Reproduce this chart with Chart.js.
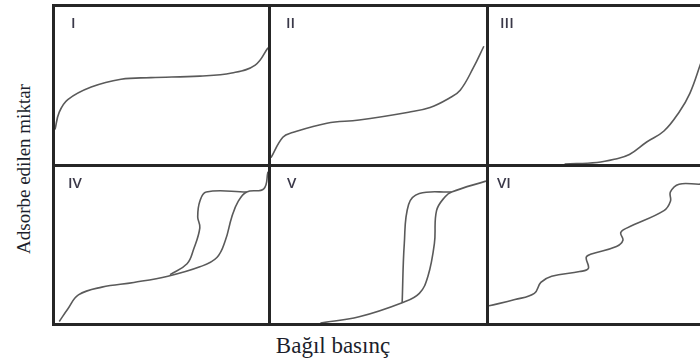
<!DOCTYPE html>
<html>
<head>
<meta charset="utf-8">
<script src="https://cdn.jsdelivr.net/npm/chart.js@4"></script>
<style>
  body { margin: 0; background: #fff; }
  #page { position: relative; width: 700px; height: 360px; overflow: hidden; }
  .panel { position: absolute; box-sizing: border-box; border: 3px solid #262626; }
  .panel canvas { position: absolute; left: 0; top: 0; }
  .roman { position: absolute; font-family: "Open Sans", "Liberation Sans", sans-serif; font-weight: 600; font-size: 15px; line-height: 15px; color: #3a3848; z-index: 2; }
  #ylab { position: absolute; left: 24px; top: 169px; transform: translate(-50%, -50%) rotate(-90deg); font-family: "Liberation Serif", "DejaVu Serif", serif; font-size: 19px; color: #1c1f2c; white-space: nowrap; }
  #xlab { position: absolute; left: 333px; top: 346px; transform: translate(-50%, -50%); font-family: "Liberation Serif", "DejaVu Serif", serif; font-size: 23px; color: #1c1f2c; white-space: nowrap; }
</style>
</head>
<body>
<div id="page">
  <div class="panel" style="left:52px;top:4px;width:219px;height:163px"><div class="roman" style="left:16px;top:8px">I</div><div class="chart-box"><canvas id="c1"></canvas></div></div>
  <div class="panel" style="left:268px;top:4px;width:221px;height:163px"><div class="roman" style="left:15px;top:8px">II</div><div class="chart-box"><canvas id="c2"></canvas></div></div>
  <div class="panel" style="left:486px;top:4px;width:222px;height:163px"><div class="roman" style="left:11px;top:8px">III</div><div class="chart-box"><canvas id="c3"></canvas></div></div>
  <div class="panel" style="left:52px;top:164px;width:219px;height:162px"><div class="roman" style="left:13px;top:8px">IV</div><div class="chart-box"><canvas id="c4"></canvas></div></div>
  <div class="panel" style="left:268px;top:164px;width:221px;height:162px"><div class="roman" style="left:16px;top:8px">V</div><div class="chart-box"><canvas id="c5"></canvas></div></div>
  <div class="panel" style="left:486px;top:164px;width:222px;height:162px"><div class="roman" style="left:8px;top:8px">VI</div><div class="chart-box"><canvas id="c6"></canvas></div></div>
  <div id="ylab">Adsorbe edilen miktar</div>
  <div id="xlab">Bağıl basınç</div>
</div>
<script>
// relative pressure (x) and adsorbed amount (y), both 0..1 inside each panel
const pressureI = [0, 0.02, 0.06, 0.17, 0.31, 0.45, 0.68, 0.83, 0.94, 1.0];
const amountI   = [0.22, 0.33, 0.41, 0.49, 0.54, 0.55, 0.56, 0.58, 0.63, 0.74];

const pressureII = [0, 0.055, 0.10, 0.26, 0.41, 0.64, 0.74, 0.83, 0.88, 0.94, 0.99];
const amountII   = [0.04, 0.17, 0.20, 0.26, 0.28, 0.33, 0.36, 0.42, 0.47, 0.61, 0.75];

const pressureIII = [0.35, 0.50, 0.58, 0.65, 0.73, 0.81, 0.88, 0.93, 0.98, 1.0];
const amountIII   = [0.0, 0.01, 0.03, 0.06, 0.14, 0.21, 0.33, 0.45, 0.64, 0.72];

const pressureIVads = [0.02, 0.06, 0.11, 0.22, 0.37, 0.53, 0.68, 0.76, 0.80, 0.83, 0.86, 0.90, 0.98, 1.0];
const amountIVads   = [0.01, 0.09, 0.18, 0.23, 0.26, 0.30, 0.36, 0.42, 0.53, 0.68, 0.78, 0.84, 0.86, 0.97];
const pressureIVdes = [0.90, 0.71, 0.68, 0.67, 0.68, 0.65, 0.62, 0.54];
const amountIVdes   = [0.84, 0.84, 0.78, 0.68, 0.61, 0.47, 0.38, 0.31];

const pressureVads = [0.23, 0.41, 0.61, 0.69, 0.73, 0.76, 0.77, 0.81, 0.84, 1.0];
const amountVads   = [0.0, 0.04, 0.13, 0.19, 0.30, 0.51, 0.72, 0.81, 0.84, 0.91];
const pressureVdes = [0.84, 0.69, 0.64, 0.62, 0.61];
const amountVdes   = [0.84, 0.83, 0.76, 0.51, 0.13];

const pressureVI = [0, 0.12, 0.21, 0.24, 0.29, 0.42, 0.46, 0.45, 0.47, 0.59, 0.62, 0.61, 0.64, 0.81, 0.84, 0.84, 0.88, 0.98, 1.0];
const amountVI   = [0.11, 0.15, 0.19, 0.26, 0.30, 0.33, 0.35, 0.42, 0.44, 0.49, 0.53, 0.58, 0.61, 0.72, 0.78, 0.84, 0.89, 0.89, 0.90];

function toPoints(xs, ys) {
  return xs.map((x, i) => ({ x: x, y: ys[i] }));
}

function curve(xs, ys) {
  return {
    data: toPoints(xs, ys),
    showLine: true,
    borderColor: "#5a5a5a",
    borderWidth: 1.6,
    pointRadius: 0,
    tension: 0.4,
    clip: false
  };
}

function draw_panel(id, datasets) {
  const canvas = document.getElementById(id);
  const box = canvas.parentElement;
  const panel = box.parentElement;
  box.style.position = "absolute";
  box.style.left = "0";
  box.style.top = "0";
  box.style.width = panel.clientWidth + "px";
  box.style.height = panel.clientHeight + "px";
  new Chart(canvas, {
    type: "scatter",
    data: { datasets: datasets },
    options: {
      responsive: true,
      maintainAspectRatio: false,
      animation: false,
      layout: { padding: 0 },
      plugins: { legend: { display: false }, tooltip: { enabled: false } },
      scales: {
        x: { type: "linear", min: 0, max: 1, display: false },
        y: { type: "linear", min: 0, max: 1, display: false }
      }
    }
  });
}

draw_panel("c1", [curve(pressureI, amountI)]);
draw_panel("c2", [curve(pressureII, amountII)]);
draw_panel("c3", [curve(pressureIII, amountIII)]);
draw_panel("c4", [curve(pressureIVads, amountIVads), curve(pressureIVdes, amountIVdes)]);
draw_panel("c5", [curve(pressureVads, amountVads), curve(pressureVdes, amountVdes)]);
draw_panel("c6", [curve(pressureVI, amountVI)]);
</script>
</body>
</html>
